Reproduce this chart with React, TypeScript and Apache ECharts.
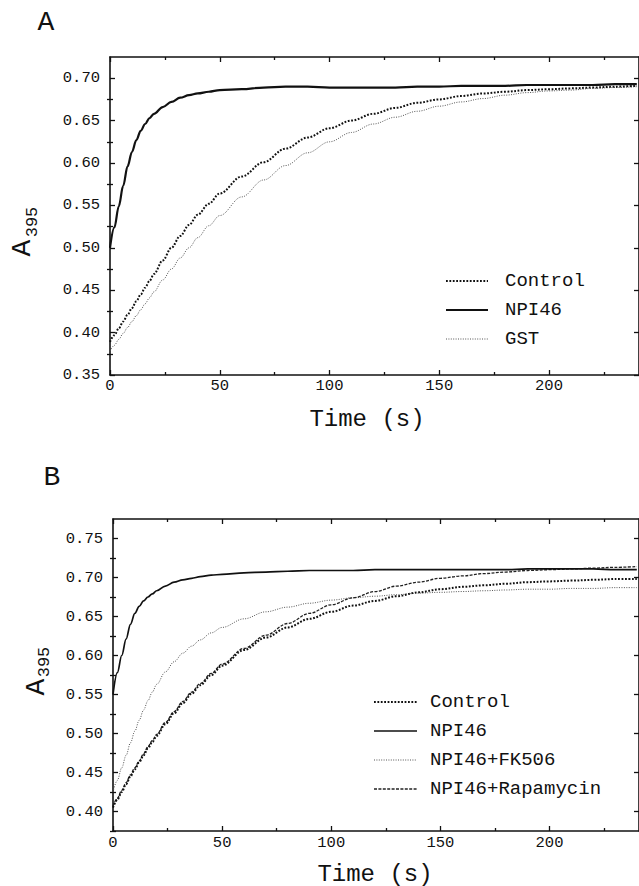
import React, { useEffect, useRef } from "react";
import * as echarts from "echarts";

// ---------- data ----------
const timeS = [0, 2, 4, 6, 8, 10, 12, 14, 16, 18, 20, 24, 28, 32, 36, 40, 45, 50, 60, 70, 80, 90, 100, 110, 120, 130, 140, 150, 160, 170, 180, 190, 200, 210, 220, 230, 240];

// Panel A
const aControl = [0.389, 0.397, 0.405, 0.413, 0.421, 0.429, 0.437, 0.445, 0.453, 0.461, 0.469, 0.485, 0.5, 0.514, 0.527, 0.539, 0.552, 0.564, 0.584, 0.601, 0.617, 0.63, 0.641, 0.65, 0.658, 0.665, 0.671, 0.675, 0.679, 0.682, 0.684, 0.686, 0.687, 0.688, 0.689, 0.69, 0.691];
const aNPI46 = [0.5, 0.524, 0.549, 0.573, 0.596, 0.613, 0.627, 0.638, 0.646, 0.653, 0.658, 0.666, 0.672, 0.677, 0.68, 0.682, 0.684, 0.686, 0.687, 0.689, 0.69, 0.69, 0.689, 0.689, 0.689, 0.689, 0.69, 0.69, 0.691, 0.691, 0.691, 0.692, 0.692, 0.692, 0.692, 0.693, 0.693];
const aGST = [0.378, 0.385, 0.392, 0.399, 0.406, 0.413, 0.42, 0.427, 0.434, 0.441, 0.448, 0.462, 0.475, 0.488, 0.5, 0.512, 0.526, 0.538, 0.56, 0.58, 0.597, 0.612, 0.625, 0.636, 0.646, 0.654, 0.661, 0.667, 0.672, 0.676, 0.68, 0.683, 0.685, 0.686, 0.688, 0.689, 0.69];

// Panel B
const bControl = [0.405, 0.415, 0.425, 0.435, 0.445, 0.454, 0.463, 0.472, 0.481, 0.489, 0.497, 0.512, 0.526, 0.539, 0.551, 0.562, 0.575, 0.587, 0.607, 0.623, 0.636, 0.647, 0.656, 0.664, 0.67, 0.676, 0.681, 0.685, 0.688, 0.69, 0.692, 0.694, 0.695, 0.696, 0.697, 0.698, 0.698];
const bNPI46 = [0.55, 0.578, 0.6, 0.621, 0.64, 0.654, 0.663, 0.67, 0.675, 0.679, 0.683, 0.689, 0.694, 0.697, 0.699, 0.701, 0.703, 0.704, 0.706, 0.707, 0.708, 0.709, 0.709, 0.709, 0.71, 0.71, 0.71, 0.71, 0.71, 0.71, 0.71, 0.711, 0.711, 0.711, 0.711, 0.71, 0.71];
const bFK506 = [0.425, 0.44, 0.456, 0.472, 0.488, 0.503, 0.517, 0.53, 0.542, 0.553, 0.563, 0.579, 0.592, 0.603, 0.612, 0.62, 0.629, 0.636, 0.647, 0.656, 0.662, 0.667, 0.671, 0.674, 0.676, 0.678, 0.68, 0.681, 0.682, 0.683, 0.684, 0.685, 0.685, 0.686, 0.686, 0.687, 0.687];
const bRapamycin = [0.407, 0.417, 0.427, 0.437, 0.447, 0.456, 0.465, 0.474, 0.483, 0.491, 0.499, 0.514, 0.528, 0.541, 0.553, 0.564, 0.577, 0.589, 0.609, 0.626, 0.641, 0.654, 0.665, 0.674, 0.682, 0.689, 0.694, 0.699, 0.702, 0.705, 0.707, 0.709, 0.71, 0.711, 0.712, 0.713, 0.714];

// Ticks
const xMajor = [0, 50, 100, 150, 200];
const xMinor = [25, 75, 125, 175, 225];
const yMajorA = [0.35, 0.4, 0.45, 0.5, 0.55, 0.6, 0.65, 0.7];
const yMinorA = [0.375, 0.425, 0.475, 0.525, 0.575, 0.625, 0.675];
const yMajorB = [0.4, 0.45, 0.5, 0.55, 0.6, 0.65, 0.7, 0.75];
const yMinorB = [0.375, 0.425, 0.475, 0.525, 0.575, 0.625, 0.675, 0.725];

const legendA = ["Control", "NPI46", "GST"];
const legendB = ["Control", "NPI46", "NPI46+FK506", "NPI46+Rapamycin"];

// ---------- styles ----------
const FONT = "'Liberation Mono', 'DejaVu Sans Mono', monospace";
const INK = "#111";
const styleControl = { color: INK, width: 2, type: [1.8, 1.6] as any };
const styleNPI = { color: INK, width: 2.2, type: "solid" as any };
const styleNPIb = { color: INK, width: 1.7, type: "solid" as any };
const styleThin = { color: "#555", width: 1, type: [1, 1.4] as any };
const styleRapa = { color: "#222", width: 1.3, type: [3, 1.4] as any };

function pairs(vals: number[]) {
  return timeS.map((t, i) => [t, vals[i]]);
}

function xAxes(grid: number, labelMargin: number) {
  const base = { type: "value", gridIndex: grid, min: 0, max: 241, splitLine: { show: false } };
  const line = { show: true, onZero: false, lineStyle: { color: INK, width: 1.6 } };
  const tick = (vals: number[], len: number) => ({ show: true, inside: true, length: len, customValues: vals, lineStyle: { color: INK, width: 1.3 } });
  return [
    { ...base, position: "bottom", axisLine: line, axisTick: tick(xMajor, 5),
      axisLabel: { show: true, customValues: xMajor, margin: labelMargin, color: INK, fontFamily: FONT, fontSize: 15.5 } },
    { ...base, position: "bottom", axisLine: { show: false }, axisTick: tick(xMinor, 3), axisLabel: { show: false } },
    { ...base, position: "top", axisLine: line, axisTick: tick(xMajor, 5), axisLabel: { show: false } },
    { ...base, position: "top", axisLine: { show: false }, axisTick: tick(xMinor, 3), axisLabel: { show: false } },
  ];
}

function yAxes(grid: number, min: number, max: number, major: number[], minor: number[]) {
  const base = { type: "value", gridIndex: grid, min, max, splitLine: { show: false } };
  const line = { show: true, onZero: false, lineStyle: { color: INK, width: 1.6 } };
  const tick = (vals: number[], len: number) => ({ show: true, inside: true, length: len, customValues: vals, lineStyle: { color: INK, width: 1.3 } });
  return [
    { ...base, position: "left", axisLine: line, axisTick: tick(major, 5),
      axisLabel: { show: true, customValues: major, margin: 10, color: INK, fontFamily: FONT, fontSize: 15.5,
        formatter: (v: number) => v.toFixed(2) } },
    { ...base, position: "left", axisLine: { show: false }, axisTick: tick(minor, 3), axisLabel: { show: false } },
    { ...base, position: "right", axisLine: line, axisTick: tick(major, 5), axisLabel: { show: false } },
    { ...base, position: "right", axisLine: { show: false }, axisTick: tick(minor, 3), axisLabel: { show: false } },
  ];
}

function legendItems(names: string[], styles: any[], x1: number, x2: number, tx: number, ys: number[]) {
  const els: any[] = [];
  names.forEach((n, i) => {
    const s = styles[i];
    els.push({
      type: "line", shape: { x1, y1: ys[i], x2, y2: ys[i] },
      style: { stroke: s.color, lineWidth: s.width, lineDash: s.type === "solid" ? null : s.type },
    });
    els.push({
      type: "text", x: tx, y: ys[i],
      style: { text: n, fill: INK, font: `19px ${FONT}`, textAlign: "left", textVerticalAlign: "middle" },
    });
  });
  return els;
}

function yTitle(ax: number, ay: number, sx: number, sy: number) {
  return [
    { type: "text", x: ax, y: ay, rotation: Math.PI / 2,
      style: { text: "A", fill: INK, font: `28px ${FONT}`, textAlign: "center", textVerticalAlign: "middle" } },
    { type: "text", x: sx, y: sy, rotation: Math.PI / 2,
      style: { text: "395", fill: INK, font: `17px ${FONT}`, textAlign: "center", textVerticalAlign: "middle" } },
  ];
}

export default function App() {
  const ref = useRef<HTMLDivElement>(null);
  useEffect(() => {
    if (!ref.current) return;
    const chart = echarts.init(ref.current, undefined, { renderer: "svg" });
    const lineSeries = (name: string, vals: number[], style: any, xi: number, yi: number) => ({
      type: "line", name, data: pairs(vals), xAxisIndex: xi, yAxisIndex: yi,
      showSymbol: false, symbol: "none", smooth: 0.35, smoothMonotone: "x",
      lineStyle: { color: style.color, width: style.width, type: style.type },
      z: 3,
    });
    chart.setOption({
      animation: false,
      backgroundColor: "#fff",
      grid: [
        { left: 110, top: 57, width: 531, height: 318 },
        { left: 113, top: 519, width: 529, height: 312 },
      ],
      xAxis: [...xAxes(0, 3), ...xAxes(1, 4)],
      yAxis: [
        ...yAxes(0, 0.35, 0.725, yMajorA, yMinorA),
        ...yAxes(1, 0.375, 0.775, yMajorB, yMinorB),
      ],
      series: [
        lineSeries("GST", aGST, styleThin, 0, 0),
        lineSeries("Control", aControl, styleControl, 0, 0),
        lineSeries("NPI46", aNPI46, styleNPI, 0, 0),
        lineSeries("NPI46+FK506", bFK506, styleThin, 4, 4),
        lineSeries("NPI46+Rapamycin", bRapamycin, styleRapa, 4, 4),
        lineSeries("Control", bControl, styleControl, 4, 4),
        lineSeries("NPI46", bNPI46, styleNPIb, 4, 4),
      ],
      graphic: [
        { type: "text", x: 46, y: 22, style: { text: "A", fill: INK, font: `28px ${FONT}`, textAlign: "center", textVerticalAlign: "middle" } },
        { type: "text", x: 52, y: 477, style: { text: "B", fill: INK, font: `28px ${FONT}`, textAlign: "center", textVerticalAlign: "middle" } },
        { type: "text", x: 367, y: 419, style: { text: "Time (s)", fill: INK, font: `24px ${FONT}`, textAlign: "center", textVerticalAlign: "middle" } },
        { type: "text", x: 375, y: 874, style: { text: "Time (s)", fill: INK, font: `24px ${FONT}`, textAlign: "center", textVerticalAlign: "middle" } },
        ...yTitle(22, 248, 32, 222),
        ...yTitle(36, 687, 44, 662),
        ...legendItems(legendA, [styleControl, styleNPI, styleThin], 446, 488, 505, [281, 310, 339]),
        ...legendItems(legendB, [styleControl, styleNPIb, styleThin, styleRapa], 374, 417, 430, [702, 731, 760, 789]),
      ],
    });
    return () => chart.dispose();
  }, []);
  return (
    <div
      ref={ref}
      style={{ position: "absolute", left: 0, top: 0, width: 639, height: 886, background: "#fff" }}
    />
  );
}
